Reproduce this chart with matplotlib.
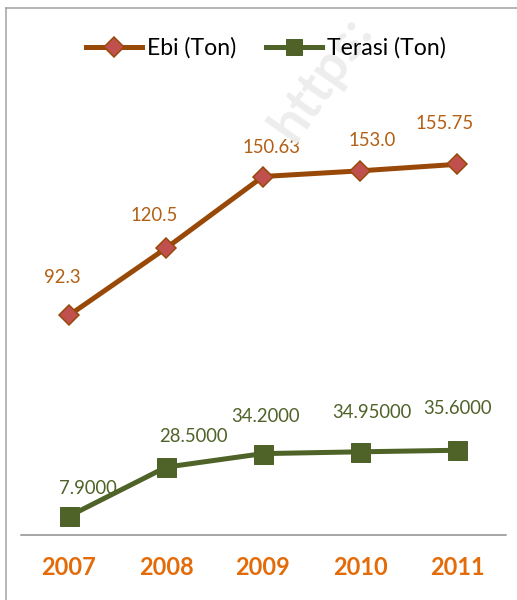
import matplotlib.pyplot as plt
from matplotlib.lines import Line2D

# data
years = ["2007", "2008", "2009", "2010", "2011"]
ebi = [92.3, 120.5, 150.63, 153.0, 155.75]
terasi = [7.9, 28.5, 34.2, 34.95, 35.6]
ebi_labels = ["92.3", "120.5", "150.63", "153.0", "155.75"]
terasi_labels = ["7.9000", "28.5000", "34.2000", "34.95000", "35.6000"]

# label offsets in points (dpi=72 so points == pixels)
ebi_off = [(-7, 38), (-12, 33), (9, 29), (12, 30), (-12, 41)]
terasi_off = [(19, 28), (27, 31), (2, 37), (12, 39), (0, 42)]

plt.rcParams['font.family'] = ['Lato', 'DejaVu Sans']

W, H = 517, 600
fig = plt.figure(figsize=(W / 72, H / 72), dpi=72)
fig.patch.set_facecolor("white")

# faint watermark
fig.text(322 / W, 1 - 78 / H, "https:", rotation=55, fontsize=54, fontweight="bold",
         color="#EDEDED", ha="center", va="center", zorder=0)

# axes: x from 20.5 to 505.5 px, bottom at y=535 px
ax = fig.add_axes([20.5 / W, 1 - 535 / H, 485 / W, 476 / H])
ax.patch.set_alpha(0)
ax.set_xlim(-0.5, 4.5)
ax.set_ylim(0, 200)

x = range(len(years))
ebi_line = "#984807"
ebi_fill = "#C0504D"
ter_col = "#4F6228"

ax.plot(x, ebi, color=ebi_line, lw=5, marker="D", ms=14,
        markerfacecolor=ebi_fill, markeredgecolor=ebi_line, markeredgewidth=1.5, zorder=3)
ax.plot(x, terasi, color=ter_col, lw=5, marker="s", ms=19,
        markerfacecolor=ter_col, markeredgecolor=ter_col, zorder=3)

for i in x:
    ax.annotate(ebi_labels[i], (i, ebi[i]), xytext=ebi_off[i], textcoords="offset points",
                ha="center", va="center", fontsize=18.5, color="#B35F14")
    ax.annotate(terasi_labels[i], (i, terasi[i]), xytext=terasi_off[i], textcoords="offset points",
                ha="center", va="center", fontsize=18.5, color=ter_col)

for s in ["top", "right", "left"]:
    ax.spines[s].set_visible(False)
ax.spines["bottom"].set_color("#8C8C8C")
ax.spines["bottom"].set_linewidth(1.5)
ax.set_yticks([])
ax.set_xticks(list(x))
ax.set_xticklabels(years, fontsize=23.5, fontweight="bold", color="#E36C09")
ax.tick_params(axis="x", length=0, pad=21)

# legend
handles = [
    Line2D([], [], color=ebi_line, lw=5, marker="D", ms=14, markerfacecolor=ebi_fill,
           markeredgecolor=ebi_line, markeredgewidth=1.5),
    Line2D([], [], color=ter_col, lw=5, marker="s", ms=16, markerfacecolor=ter_col,
           markeredgecolor=ter_col),
]
fig.legend(handles, ["Ebi (Ton)", "Terasi (Ton)"], loc="center", bbox_to_anchor=(266 / W, 1 - 48 / H),
           ncol=2, frameon=False, fontsize=23, handlelength=2.45, handletextpad=0.2,
           columnspacing=1.3)

# outer frame (left and top edges)
fig.add_artist(Line2D([6 / W, 6 / W], [0, 1 - 8 / H], color="#A0A0A0", lw=1.5,
                      transform=fig.transFigure))
fig.add_artist(Line2D([6 / W, 1], [1 - 8 / H, 1 - 8 / H], color="#A0A0A0", lw=1.5,
                      transform=fig.transFigure))

fig.savefig("out.png", dpi=72)
